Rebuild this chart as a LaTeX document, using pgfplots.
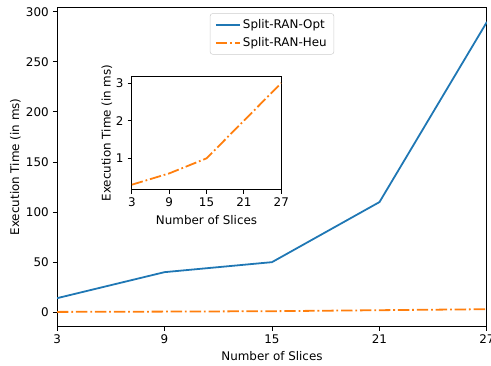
\documentclass[border=0pt]{standalone}
\usepackage{fontspec}
\setmainfont{DejaVu Sans}
\usepackage{pgfplots}
\pgfplotsset{compat=1.18}
\definecolor{tabblue}{HTML}{1F77B4}
\definecolor{taborange}{HTML}{FF7F0E}
\pgfplotsset{
  mpl/.style={
    scale only axis,
    /pgf/number format/assume math mode=true,
    tick align=outside,
    major tick length=3.5pt,
    tick style={black, line width=0.8pt},
    axis line style={line width=0.8pt},
    xtick pos=bottom, ytick pos=left,
    tick label style={font=\fontsize{10}{12}\selectfont},
    label style={font=\fontsize{10}{12}\selectfont},
    xmin=3, xmax=27,
    xtick={3,9,15,21,27},
    scaled y ticks=false,
  },
  dashdot/.style={dash pattern=on 9.6pt off 2.4pt on 1.5pt off 2.4pt},
}
\begin{document}
\begin{tikzpicture}
\begin{axis}[mpl, name=main,
  width=361pt, height=268pt,
  ymin=-14.2, ymax=304.6,
  ytick={0,50,100,150,200,250,300},
  xlabel={Number of Slices},
  ylabel={Execution Time (in ms)},
  every axis x label/.style={at={(axis description cs:0.5,-0.094)}, anchor=center},
  every axis y label/.style={at={(axis description cs:-0.097,0.5)}, anchor=center, rotate=90},
  legend style={at={(axis description cs:0.5,0.981)}, anchor=north, draw=black!20, rounded corners=2pt,
    font=\fontsize{10}{12}\selectfont, cells={anchor=west}, inner xsep=4pt, inner ysep=3pt, row sep=2pt},
  legend image code/.code={\draw[#1] (0pt,0pt) -- (20pt,0pt);},
]
\addplot[tabblue, line width=1.5pt] coordinates {(3,14) (9,40) (15,50) (21,110) (27,290)};
\addlegendentry{Split-RAN-Opt}
\addplot[taborange, line width=1.5pt, dashdot] coordinates {(3,0.3) (9,0.6) (15,1.0) (21,2.0) (27,3.0)};
\addlegendentry{Split-RAN-Heu}
\end{axis}
\begin{axis}[mpl, at={(62.8pt,114.9pt)}, anchor=south west,
  width=125.5pt, height=95pt,
  ymin=0.17, ymax=3.175,
  ytick={1,2,3},
  xlabel={Number of Slices},
  ylabel={Execution Time (in ms)},
  every axis x label/.style={at={(axis description cs:0.5,-0.265)}, anchor=center},
  every axis y label/.style={at={(axis description cs:-0.167,0.5)}, anchor=center, rotate=90},
]
\addplot[taborange, line width=1.5pt, dashdot] coordinates {(3,0.3) (9,0.6) (15,1.0) (21,2.0) (27,3.0)};
\end{axis}
\pgfresetboundingbox
\path[use as bounding box] ([xshift=-47.9pt,yshift=-33pt]main.south west) rectangle ([xshift=3.4pt,yshift=6.1pt]main.north east);
\end{tikzpicture}
\end{document}
